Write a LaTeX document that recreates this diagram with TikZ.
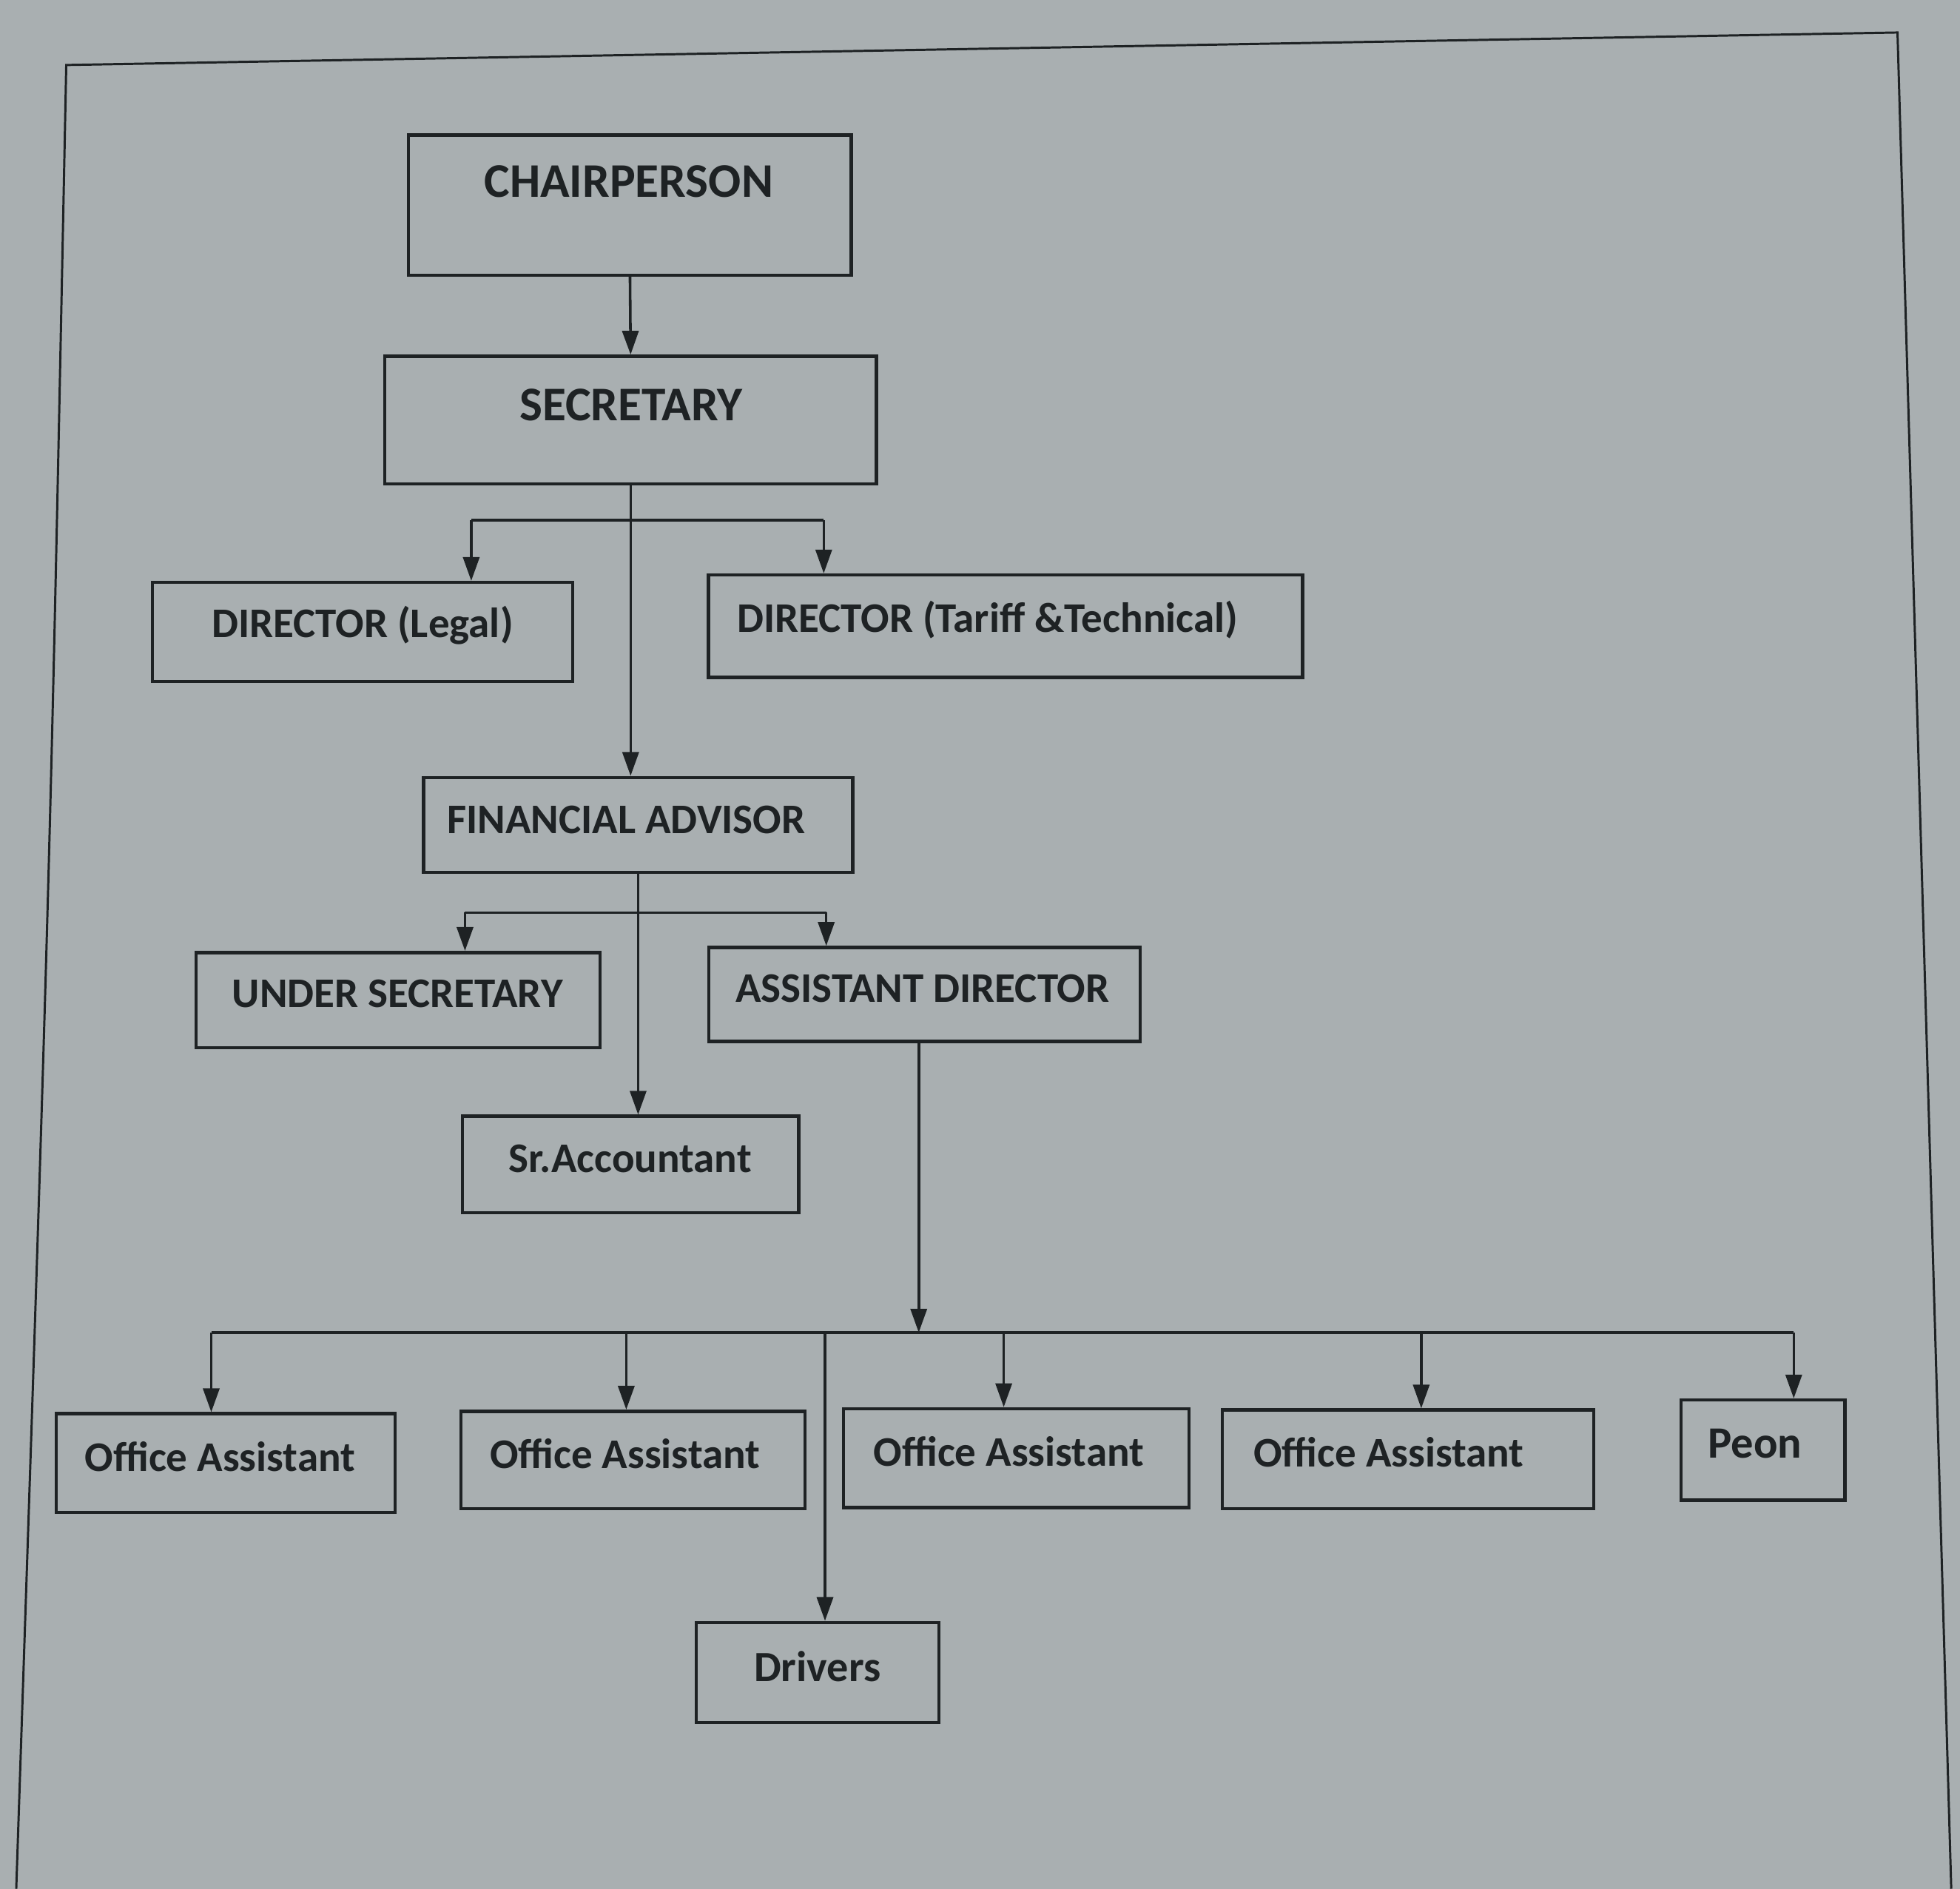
\documentclass[tikz,border=0pt]{standalone}
\usepackage{fontspec}
\setmainfont{Carlito}
\usetikzlibrary{arrows.meta}
\definecolor{paper}{HTML}{A9AFB1}
\definecolor{ink}{HTML}{1E2224}
\tikzset{
  box/.style={draw=ink, line width=0.75pt, inner sep=0pt},
  lbl/.style={text=ink, font=\bfseries\fontsize{9.6}{12}\selectfont, inner sep=0pt},
  biglbl/.style={lbl, font=\bfseries\fontsize{11}{13}\selectfont},
  wire/.style={draw=ink, line width=0.6pt},
  arr/.style={wire, -{Triangle[width=0.13cm,length=0.19cm]}},
  frame/.style={draw=ink, line width=0.5pt}
}
\begin{document}
\begin{tikzpicture}[x=0.01cm,y=-0.01cm]
\fill[paper] (0,0) rectangle (1568,1511);
\useasboundingbox (0,0) rectangle (1568,1511);
% paper frame
\coordinate (f1) at (53,52);
\coordinate (f2) at (1518,26);
\coordinate (f3) at (1561,1511);
\coordinate (f4) at (13,1511);
\draw[frame] (f4) .. controls (40,700) .. (f1) -- (f2) -- (f3);
% boxes
\node[box, minimum width=3.54cm, minimum height=1.12cm] (chair) at (504,164) {};
\node[box, minimum width=3.93cm, minimum height=1.02cm] (sec) at (504.5,336) {};
\node[box, minimum width=3.36cm, minimum height=0.79cm] (dl) at (290,505.5) {};
\node[box, minimum width=4.75cm, minimum height=0.82cm] (dt) at (804.5,501) {};
\node[box, minimum width=3.43cm, minimum height=0.76cm] (fa) at (510.5,660) {};
\node[box, minimum width=3.23cm, minimum height=0.76cm] (us) at (318.5,800) {};
\node[box, minimum width=3.45cm, minimum height=0.75cm] (ad) at (739.5,795.5) {};
\node[box, minimum width=2.69cm, minimum height=0.77cm] (sr) at (504.5,931.5) {};
\node[box, minimum width=2.71cm, minimum height=0.79cm] (oa1) at (180.5,1170.5) {};
\node[box, minimum width=2.75cm, minimum height=0.78cm] (oa2) at (506.5,1168) {};
\node[box, minimum width=2.76cm, minimum height=0.79cm] (oa3) at (813,1166.5) {};
\node[box, minimum width=2.97cm, minimum height=0.79cm] (oa4) at (1126.5,1167.5) {};
\node[box, minimum width=1.31cm, minimum height=0.80cm] (peon) at (1410.5,1160) {};
\node[box, minimum width=1.94cm, minimum height=0.80cm] (drv) at (654,1338) {};
% labels
\node[biglbl] (chairT) at (503,145) {CHAIRPERSON};
\node[biglbl] (secT) at (505,324) {SECRETARY};
\node[lbl] (dlT) at (290,500) {DIRECTOR (Legal)};
\node[lbl] (dtT) at (790,496) {DIRECTOR (Tariff \&Technical)};
\node[lbl] (faT) at (501,656) {FINANCIAL ADVISOR};
\node[lbl] (usT) at (318,795) {UNDER SECRETARY};
\node[lbl] (adT) at (738,791) {ASSISTANT DIRECTOR};
\node[lbl] (srT) at (504,927) {Sr.Accountant};
\node[lbl] (oa1T) at (176,1165) {Office Assistant};
\node[lbl] (oa2T) at (500,1163) {Office Assistant};
\node[lbl] (oa3T) at (807,1161) {Office Assistant};
\node[lbl] (oa4T) at (1111,1162) {Office Assistant};
\node[lbl, font=\bfseries\fontsize{10.2}{12}\selectfont] (peonT) at (1404,1155) {Peon};
\node[lbl, font=\bfseries\fontsize{9.8}{12}\selectfont] (drvT) at (654,1333) {Drivers};
% connectors
\draw[arr] (chair.south) -- (sec.north);
\coordinate (b1L) at (377,416);
\coordinate (b1R) at (659,416);
\draw[wire] (b1L) -- (b1R);
\draw[arr] (b1L) -- (b1L |- dl.north);
\draw[arr] (b1R) -- (b1R |- dt.north);
\draw[arr] (sec.south) -- (sec.south |- fa.north);
\coordinate (b2L) at (372,730);
\coordinate (b2R) at (661,730);
\draw[wire] (b2L) -- (b2R);
\draw[arr] (b2L) -- (b2L |- us.north);
\draw[arr] (b2R) -- (b2R |- ad.north);
\draw[arr] (fa.south) -- (fa.south |- sr.north);
\coordinate (busL) at (169,1066);
\coordinate (busR) at (1435,1066);
\coordinate (bus) at (735,1066);
\draw[wire] (busL) -- (busR);
\draw[arr] (ad.south -| bus) -- (bus);
\coordinate (d2) at (501,1066);
\coordinate (d3) at (660,1066);
\coordinate (d4) at (803,1066);
\coordinate (d5) at (1137,1066);
\draw[arr] (busL) -- (busL |- oa1.north);
\draw[arr] (d2) -- (d2 |- oa2.north);
\draw[arr] (d3) -- (d3 |- drv.north);
\draw[arr] (d4) -- (d4 |- oa3.north);
\draw[arr] (d5) -- (d5 |- oa4.north);
\draw[arr] (busR) -- (busR |- peon.north);
\end{tikzpicture}
\end{document}
